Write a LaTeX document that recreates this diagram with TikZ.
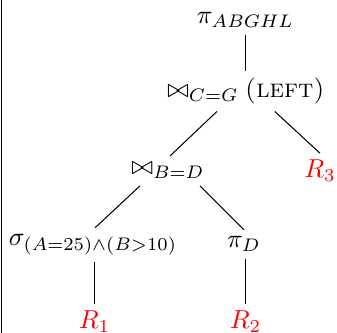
\documentclass[tikz,border=0pt]{standalone}
\begin{document}
\begin{tikzpicture}[x=0.385pt,y=-0.385pt,
  lbl/.style={inner sep=2.5pt, anchor=base},
  rel/.style={lbl, text=red},
  edge/.style={draw=black, line width=0.4pt}]
\useasboundingbox (0,0) rectangle (337,333);
\draw (1.5,0) -- (1.5,333);
\node[lbl] (pi) at (245.5,24) {$\pi_{ABGHL}$};
\node[lbl] (cg) at (246,98) {$\bowtie_{C=G}$\hspace{2.5pt}\textsc{(left)}};
\node[lbl] (bd) at (168,175) {$\bowtie_{B=D}$};
\node[rel] (r3) at (320,178) {$R_3$};
\node[lbl] (sg) at (93,246) {$\sigma_{(A=25)\wedge(B>10)}$};
\node[lbl] (pd) at (244,248) {$\pi_D$};
\node[rel] (r1) at (94.5,329) {$R_1$};
\node[rel] (r2) at (245.5,329) {$R_2$};
\draw[edge] (pi.south) -- (pi.south |- cg.north);
\draw[edge] ([xshift=-11.2pt]cg.south) -- ([xshift=0.8pt]bd.north);
\draw[edge] ([xshift=11.1pt]cg.south) -- (r3.north);
\draw[edge] ([xshift=-10.8pt]bd.south) -- ([xshift=0.8pt]sg.north);
\draw[edge] ([xshift=12.3pt]bd.south) -- (pd.north);
\draw[edge] (r1.north |- sg.south) -- (r1.north);
\draw[edge] (r2.north |- pd.south) -- (r2.north);
\end{tikzpicture}
\end{document}
